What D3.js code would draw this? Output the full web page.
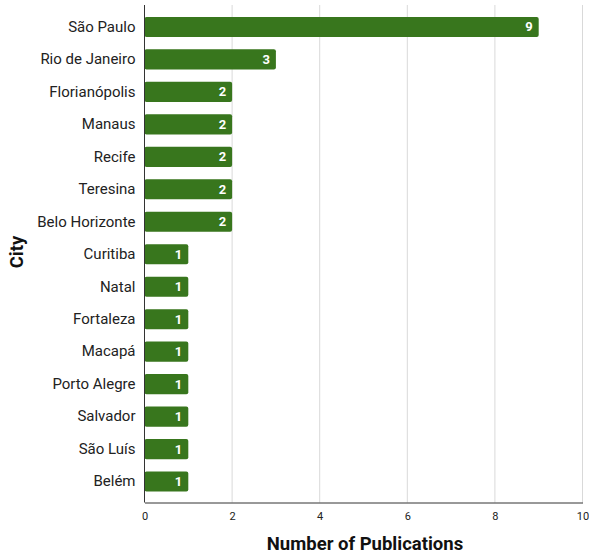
<!DOCTYPE html>
<html><head><meta charset="utf-8">
<script src="https://cdnjs.cloudflare.com/ajax/libs/d3/7.8.5/d3.min.js"></script>
<style>body{margin:0;background:#fff}svg{display:block;font-family:Roboto,sans-serif}</style>
</head><body>
<svg id="c" width="589" height="556"></svg>
<script>
const cities = ["São Paulo","Rio de Janeiro","Florianópolis","Manaus","Recife","Teresina","Belo Horizonte","Curitiba","Natal","Fortaleza","Macapá","Porto Alegre","Salvador","São Luís","Belém"];
const publications = [9,3,2,2,2,2,2,1,1,1,1,1,1,1,1];
const xTicks = [0,2,4,6,8,10];

(function(){
const svg = d3.select("#c");
const pLeft = 144.5, pRight = 582.5, pTop = 5, pBottom = 502.5;
const x = d3.scaleLinear().domain([0,10]).range([pLeft,pRight]);
const y = d3.scaleBand().domain(cities).range([pTop+1,pBottom]).paddingInner(0.38).paddingOuter(0.335);

// gridlines
svg.append("g").selectAll("line").data(xTicks.filter(d=>d>0)).join("line")
  .attr("x1",d=>x(d)).attr("x2",d=>x(d)).attr("y1",pTop).attr("y2",pBottom)
  .attr("stroke","#d9d9d9").attr("stroke-width",1);

// bars
svg.append("g").selectAll("rect").data(cities).join("rect")
  .attr("x",x(0)).attr("y",d=>y(d))
  .attr("width",(d,i)=>x(publications[i])-x(0))
  .attr("height",y.bandwidth()).attr("rx",2).attr("fill","#38761d");

// value labels
svg.append("g").selectAll("text").data(cities).join("text")
  .attr("x",(d,i)=>x(publications[i])-6).attr("y",d=>y(d)+y.bandwidth()/2)
  .attr("dy","0.35em").attr("text-anchor","end")
  .attr("fill","#fff").attr("font-weight","bold").attr("font-size",13)
  .text((d,i)=>publications[i]);

// y axis
const ya = svg.append("g").attr("transform",`translate(${pLeft},0)`)
  .call(d3.axisLeft(y).tickSize(0).tickPadding(9));
ya.select(".domain").remove();
ya.selectAll("text").attr("font-size",15).attr("fill","#222").attr("font-family","Roboto,sans-serif");
svg.append("line").attr("x1",pLeft).attr("x2",pLeft).attr("y1",pTop).attr("y2",pBottom).attr("stroke","#333").attr("stroke-width",1);

// x axis
const xa = svg.append("g").attr("transform",`translate(0,${pBottom})`)
  .call(d3.axisBottom(x).tickValues(xTicks).tickSize(0).tickPadding(10).tickFormat(d3.format("d")));
xa.select(".domain").attr("stroke","#333");
xa.selectAll("text").attr("font-size",11).attr("fill","#222").attr("font-family","Roboto,sans-serif");

// titles
svg.append("text").attr("x",365).attr("y",550).attr("text-anchor","middle")
  .attr("font-weight","bold").attr("font-size",18.5).attr("fill","#111").text("Number of Publications");
svg.append("text").attr("transform",`translate(23,252) rotate(-90)`).attr("text-anchor","middle")
  .attr("font-weight","bold").attr("font-size",18.5).attr("fill","#111").text("City");
})();
</script>
</body></html>
